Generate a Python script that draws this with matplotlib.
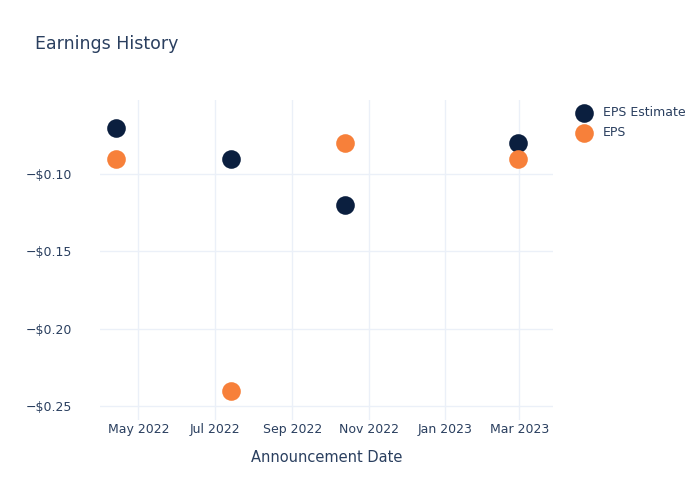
import matplotlib
matplotlib.use("Agg")
import matplotlib.pyplot as plt
import matplotlib.dates as mdates
import numpy as np
import datetime as dt

dates = ["2022-04-13", "2022-07-14", "2022-10-13", "2023-02-28"]
eps_estimate = [-0.07, -0.09, -0.12, -0.08]
eps_actual = [-0.09, -0.24, -0.08, -0.09]
tick_dates = ["2022-05-01", "2022-07-01", "2022-09-01", "2022-11-01", "2023-01-01", "2023-03-01"]
tick_labels = ["May 2022", "Jul 2022", "Sep 2022", "Nov 2022", "Jan 2023", "Mar 2023"]
y_ticks = [-0.10, -0.15, -0.20, -0.25]

TXT = "#2a3f5f"
GRID = "#ebf0f8"
NAVY = "#0b1f3f"
ORANGE = "#f7803a"

x = [dt.datetime.strptime(d, "%Y-%m-%d") for d in dates]
xt = [dt.datetime.strptime(d, "%Y-%m-%d") for d in tick_dates]

fig = plt.figure(figsize=(7, 5), dpi=100)
ax = fig.add_axes([100/700, 80/500, 453/700, 320/500])

ax.scatter(x, eps_estimate, s=180, color=NAVY, zorder=3, label="EPS Estimate", linewidths=0)
ax.scatter(x, eps_actual, s=180, color=ORANGE, zorder=3, label="EPS", linewidths=0)

ax.set_xlim(dt.datetime(2022, 3, 31, 10), dt.datetime(2023, 3, 28))
ax.set_ylim(-0.259, -0.052)
ax.set_xticks(xt)
ax.set_xticklabels(tick_labels)
ax.set_yticks(y_ticks)
ax.set_yticklabels(["\u2212$%.2f" % abs(v) for v in y_ticks])

for s in ax.spines.values():
    s.set_visible(False)
ax.grid(True, color=GRID, linewidth=1)
ax.set_axisbelow(True)
ax.tick_params(axis="both", length=0, colors=TXT, labelsize=9)
ax.tick_params(axis="x", pad=2)
ax.tick_params(axis="y", pad=20)
for lbl in ax.get_xticklabels() + ax.get_yticklabels():
    lbl.set_color(TXT)

ax.set_xlabel("Announcement Date", color=TXT, fontsize=10.5, labelpad=10)
fig.text(35/700, 1 - 44/500, "Earnings History", color=TXT, fontsize=12.5, va="center", ha="left")

leg = fig.legend(loc="upper left", bbox_to_anchor=(571/700, 1 - 106/500), frameon=False,
                 fontsize=9, labelcolor=TXT, handletextpad=0.55, labelspacing=0.6,
                 markerscale=1.0, borderaxespad=0, borderpad=0)

fig.savefig("out.png", dpi=100, facecolor="white")
